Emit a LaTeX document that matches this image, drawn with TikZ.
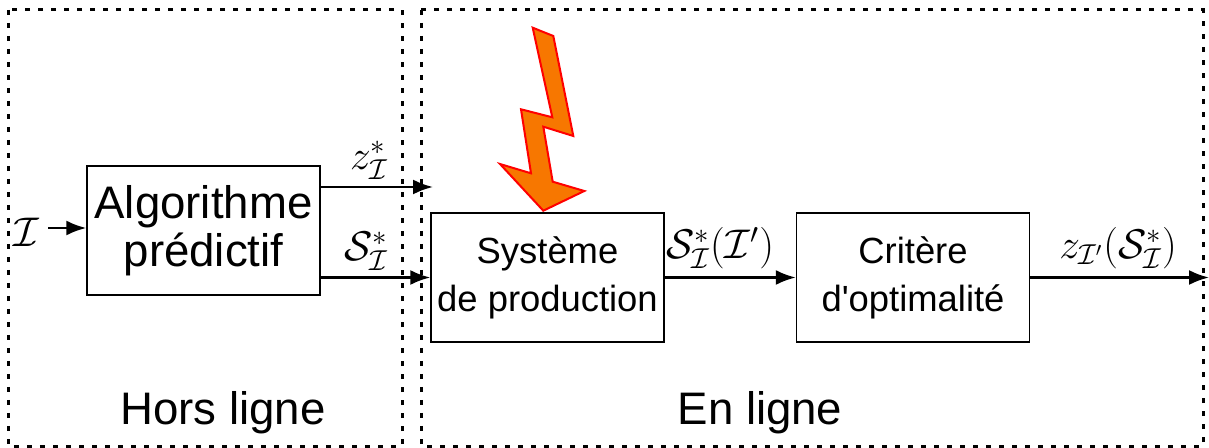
\documentclass[tikz,border=0pt]{standalone}
\usepackage{fontspec}
\setmainfont{Liberation Sans}
\usetikzlibrary{arrows.meta}
\begin{document}
\begin{tikzpicture}[x=0.5pt,y=-0.5pt,
  blk/.style={draw,line width=0.7pt,minimum width=116.5pt,minimum height=64.5pt,inner sep=0pt,align=center},
  bigtxt/.style={font=\fontsize{22.8}{26}\selectfont},
  smalltxt/.style={font=\fontsize{18.2}{24}\selectfont},
  zone/.style={line width=1.5pt,dash pattern=on 2.5pt off 4pt},
  flow/.style={line width=1.2pt,-{Latex[length=10pt,width=7.5pt]}},
  lbl/.style={font=\fontsize{19.5}{22}\selectfont,inner sep=0pt}]
\useasboundingbox (0,0) rectangle (1209,448);
% zones
\draw[zone] (8,10) rectangle (402,446);
\draw[zone] (421,10) rectangle (1203,446);
\node[bigtxt] (hors) at (223,413) {Hors ligne};
\node[bigtxt] (en) at (760,413) {En ligne};
% blocks
\node[blk,bigtxt] (algo) at (203.5,230.5) {Algorithme\\[-2pt]prédictif};
\node[blk,smalltxt] (sys) at (547.5,277.5) {Système\\de production};
\node[blk,smalltxt] (crit) at (913,277.5) {Critère\\d\textquotesingle optimalité};
% input
\node[font=\fontsize{21}{24}\selectfont,inner sep=0pt] (inp) at (26,232) {$\mathcal{I}$};
\coordinate (inps) at (48,228);
\draw[flow] (inps) -- (algo.west|-inps);
% outputs of algo
\coordinate (zend) at (433,187);
\draw[flow] (algo.east|-zend) -- (zend);
\node[lbl] (zl) at (369,160) {$z^{*}_{\mathcal{I}}$};
\draw[flow] (algo.east|-sys.west) -- (sys.west);
\node[lbl] (sl) at (366,251) {$\mathcal{S}^{*}_{\mathcal{I}}$};
% sys -> crit
\draw[flow] (sys.east) -- (crit.west);
\node[lbl] (scl) at (720,248) {$\mathcal{S}^{*}_{\mathcal{I}}(\mathcal{I}')$};
% output
\coordinate (outend) at (1209,277.5);
\draw[flow] (crit.east) -- (outend);
\node[lbl] (ol) at (1118,248) {$z_{\mathcal{I}'}(\mathcal{S}^{*}_{\mathcal{I}})$};
% lightning
\draw[draw=red,fill={rgb,255:red,247;green,119;blue,0},line width=1pt,line join=miter]
 (532.7,27.7) -- (552.3,117.3) -- (521,109.3) -- (531,173.3) -- (500,164) -- (543.3,210.7)
 -- (584.3,191) -- (552.7,181.7) -- (543.3,126.7) -- (573.3,136) -- (553.3,36) -- cycle;
\end{tikzpicture}
\end{document}
